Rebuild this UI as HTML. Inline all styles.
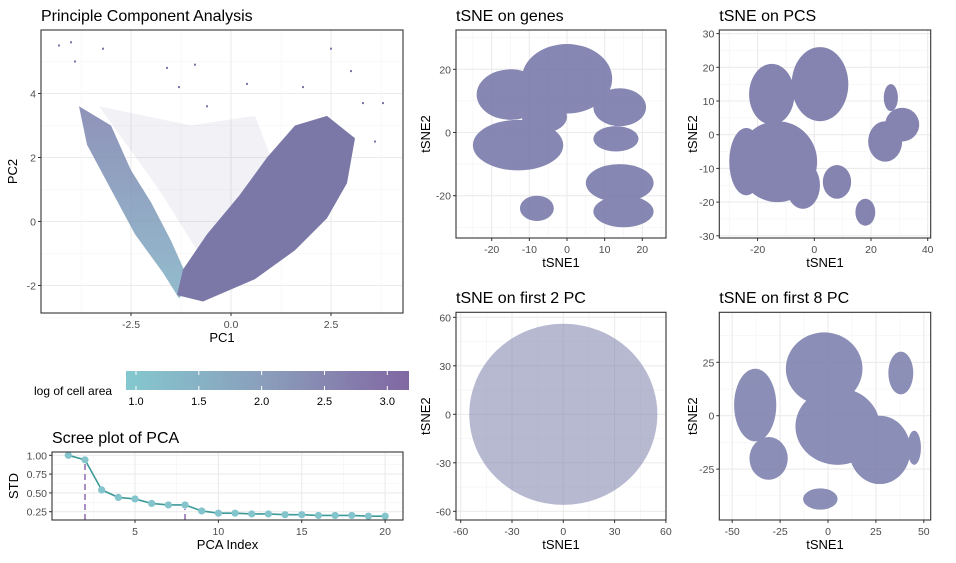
<!DOCTYPE html>
<html><head><meta charset="utf-8">
<style>
html,body{margin:0;padding:0;background:#fff;}
svg{display:block;font-family:"Liberation Sans",Arial,sans-serif;}
.tick{font-size:10.5px;fill:#4d4d4d;}
.ttl{font-size:16px;fill:#000;}
.axt{font-size:13px;fill:#000;}
</style></head>
<body>
<svg id="fig" width="956" height="563" viewBox="0 0 956 563" xmlns="http://www.w3.org/2000/svg">
<defs>
<linearGradient id="leg" x1="0" x2="1" y1="0" y2="0">
<stop offset="0" stop-color="#84c8cf"/><stop offset="0.5" stop-color="#8a9dbb"/><stop offset="1" stop-color="#8167a2"/>
</linearGradient>
<radialGradient id="blobg" cx="0.5" cy="0.5" r="0.6">
<stop offset="0" stop-color="#7f98b8"/><stop offset="1" stop-color="#7a74a6"/>
</radialGradient>
<linearGradient id="armg" x1="0" x2="0" y1="0" y2="1">
<stop offset="0" stop-color="#7c80ad"/><stop offset="1" stop-color="#80b0c4"/>
</linearGradient>
</defs>
</svg>
<script>
// ---------------- DATA ----------------
const screeIndex = [1,2,3,4,5,6,7,8,9,10,11,12,13,14,15,16,17,18,19,20];
const screeStd = [1.00,0.94,0.54,0.44,0.42,0.36,0.34,0.34,0.26,0.23,0.23,0.22,0.22,0.21,0.21,0.20,0.20,0.20,0.19,0.19];
const screeCutoffs = [2,8];
const screeXTicks = [5,10,15,20];
const screeYTicks = [1.00,0.75,0.50,0.25];
const legendTicks = [1.0,1.5,2.0,2.5,3.0];
const pcaXTicks = [-2.5,0.0,2.5];
const pcaYTicks = [-2,0,2,4];
const pcaLeftArm = [[-3.8,3.6],[-3.6,2.4],[-3.0,1.0],[-2.4,-0.4],[-1.7,-1.6],[-1.3,-2.4],[-1.0,-2.0],[-1.5,-0.6],[-2.0,0.6],[-2.5,1.6],[-3.0,3.0]];
const pcaRightArm = [[-1.35,-2.3],[-0.7,-2.5],[0.6,-1.8],[1.6,-0.9],[2.4,0.1],[2.9,1.2],[3.1,2.6],[2.4,3.3],[1.6,3.0],[0.9,2.0],[0.2,0.8],[-0.6,-0.4],[-1.2,-1.5]];
const pcaSparse = [[-3.3,3.6],[-1.0,3.0],[0.6,3.3],[1.0,2.0],[-0.7,-1.2],[-1.8,1.0]];
const pcaOutliers = [[-4.3,5.5],[-4.0,5.6],[-3.2,5.4],[-1.6,4.8],[-0.9,4.9],[2.5,5.4],[3.0,4.7],[3.8,3.7],[3.6,2.5],[-3.9,5.0],[-0.6,3.6],[-1.3,4.2],[0.4,4.3],[3.3,3.7],[1.8,4.2]];
// tSNE clusters: center x, center y, radius x, radius y (data units)
const genesCx = [-15,0,14,-13,13,14,15,-8,-6];
const genesCy = [12,17,8,-4,-2,-16,-25,-24,5];
const genesRx = [9,12,7,12,6,9,8,4.5,6];
const genesRy = [8,11,6,8,4,6,5,4,5];
const pcsCx = [-15,2,-13,-4,8,25,31,27,18,-24];
const pcsCy = [12,15,-8,-15,-14,-2,3,11,-23,-8];
const pcsRx = [8,10,14,6,5,6,6,2.5,3.5,6];
const pcsRy = [9,11,12,7,5,6,5,4,4,10];
const pc2Cx = [0];
const pc2Cy = [0];
const pc2Rx = [55];
const pc2Ry = [56];
const pc8Cx = [-38,-31,-2,5,27,45,38,-4];
const pc8Cy = [5,-20,22,-5,-16,-15,20,-39];
const pc8Rx = [11,10,20,22,16,3.5,6.5,9];
const pc8Ry = [17,10,17,18,16,8,10,5];

// ---------------- HELPERS ----------------
const NS="http://www.w3.org/2000/svg";
const svg=document.getElementById('fig');
function mk(tag,attrs,parent,text){const e=document.createElementNS(NS,tag);for(const k in attrs)e.setAttribute(k,attrs[k]);if(text!==undefined)e.textContent=text;(parent||svg).appendChild(e);return e;}
function lin(d0,d1,p0,p1){return v=>p0+(v-d0)*(p1-p0)/(d1-d0);}

function panel(name,box,xs,ys,xt,yt,xlab,ylab,title,fmt,minorX,minorY){
  const g=mk('g',{});
  
  
  minorX.forEach(v=>{const l=mk('line',{x1:xs(v),x2:xs(v),y1:box.y0,y2:box.y1,stroke:'#f3f3f3','stroke-width':0.6},g);});
  minorY.forEach(v=>{const l=mk('line',{x1:box.x0,x2:box.x1,y1:ys(v),y2:ys(v),stroke:'#f3f3f3','stroke-width':0.6},g);});
  xt.forEach(v=>{const l=mk('line',{x1:xs(v),x2:xs(v),y1:box.y0,y2:box.y1,stroke:'#ebebeb','stroke-width':1.1},g);});
  yt.forEach(v=>{const l=mk('line',{x1:box.x0,x2:box.x1,y1:ys(v),y2:ys(v),stroke:'#ebebeb','stroke-width':1.1},g);});
  const marks=mk('g',{},g);
  
  
  xt.forEach(v=>{mk('line',{x1:xs(v),x2:xs(v),y1:box.y1,y2:box.y1+3,stroke:'#333'},g);
    const t=mk('text',{x:xs(v),y:box.y1+15,'text-anchor':'middle',class:'tick'},g,fmt.x(v));});
  yt.forEach(v=>{mk('line',{x1:box.x0-3,x2:box.x0,y1:ys(v),y2:ys(v),stroke:'#333'},g);
    const t=mk('text',{x:box.x0-5,y:ys(v)+4,'text-anchor':'end',class:'tick'},g,fmt.y(v));});
  const xl=mk('text',{x:(box.x0+box.x1)/2,y:box.y1+29,'text-anchor':'middle',class:'axt'},g,xlab);
  
  const yx=box.ylabx;
  const yl=mk('text',{x:yx,y:(box.y0+box.y1)/2,'text-anchor':'middle',class:'axt',transform:`rotate(-90 ${yx} ${(box.y0+box.y1)/2})`},g,ylab);
  
  const tt=mk('text',{x:box.x0,y:box.ty,class:'ttl'},g,title);
  
  return {g,marks,finish:()=>{const r=mk('rect',{x:box.x0,y:box.y0,width:box.x1-box.x0,height:box.y1-box.y0,fill:'none',stroke:'#333','stroke-width':1.1},g);}};
}

// ---------------- PCA ----------------
{
const box={x0:41,x1:403,y0:30,y1:313,ty:21,ylabx:17};
const xs=lin(0,2.5,231,331), ys=lin(0,2,221.5,157.5);
const p=panel('pca-panel',box,xs,ys,pcaXTicks,pcaYTicks,'PC1','PC2','Principle Component Analysis',{x:v=>v.toFixed(1),y:v=>String(v)},[-3.75,-1.25,1.25,3.75],[-3,-1,1,3,5]);
const pts=a=>a.map(d=>xs(d[0])+','+ys(d[1])).join(' ');
const s=mk('polygon',{points:pts(pcaSparse),fill:'#8a8fb8','fill-opacity':0.12},p.marks);

const la=mk('polygon',{points:pts(pcaLeftArm),fill:'url(#armg)','fill-opacity':0.85},p.marks);

const ra=mk('polygon',{points:pts(pcaRightArm),fill:'#7b78a8'},p.marks);

pcaOutliers.forEach(d=>{const r=mk('rect',{x:xs(d[0])-1,y:ys(d[1])-1,width:2,height:2,fill:'#7b74a6'},p.marks);});
p.finish();
}

// ---------------- LEGEND ----------------
{
const g=mk('g',{});

const lx=lin(1,3,136,387.3);
const bar=mk('rect',{x:126,y:371,width:283,height:19,fill:'url(#leg)'},g);

legendTicks.forEach(v=>{mk('line',{x1:lx(v),x2:lx(v),y1:371,y2:375,stroke:'#fff'},g);mk('line',{x1:lx(v),x2:lx(v),y1:386,y2:390,stroke:'#fff'},g);
  const t=mk('text',{x:lx(v),y:405,'text-anchor':'middle',style:'font-size:11px;fill:#000'},g,v.toFixed(1));});
const lt=mk('text',{x:34,y:395,style:'font-size:12px;fill:#000'},g,'log of cell area');

}

// ---------------- SCREE ----------------
{
const box={x0:52,x1:403,y0:452,y1:520,ty:443,ylabx:18};
const xs=lin(1,5,68.3,135), ys=lin(1,0.25,455.3,511.7);
const p=panel('scree-panel',box,xs,ys,screeXTicks,screeYTicks,'PCA Index','STD','Scree plot of PCA',{x:v=>String(v),y:v=>v.toFixed(2)},[2.5,7.5,12.5,17.5],[0.375,0.625,0.875]);
screeCutoffs.forEach(c=>{const l=mk('line',{x1:xs(c),x2:xs(c),y1:box.y1,y2:ys(screeStd[c-1])+4,stroke:'#a98dc3','stroke-width':2,'stroke-dasharray':'6 4'},p.marks);});
const pl=mk('polyline',{points:screeIndex.map((v,i)=>xs(v)+','+ys(screeStd[i])).join(' '),fill:'none',stroke:'#3e9a98','stroke-width':1.6},p.marks);

screeIndex.forEach((v,i)=>{const c=mk('circle',{cx:xs(v),cy:ys(screeStd[i]),r:3.6,fill:'#84c4cc'},p.marks);});
p.finish();
}

// ---------------- tSNE panels ----------------
function tsne(name,box,xs,ys,xt,yt,title,minX,minY,cx,cy,rx,ry,op,fill){
  const p=panel(name,box,xs,ys,xt,yt,'tSNE1','tSNE2',title,{x:v=>String(v),y:v=>String(v)},minX,minY);
  p.marks.setAttribute('opacity',op);
  cx.forEach((v,i)=>{
    const kx=Math.abs(xs(rx[i])-xs(0)), ky=Math.abs(ys(ry[i])-ys(0));
    const e=mk('ellipse',{cx:xs(v),cy:ys(cy[i]),rx:kx,ry:ky,fill:fill},p.marks);
    
    
  });
  p.finish();
}
tsne('tsne-genes-panel',{x0:456,x1:666,y0:30,y1:238,ty:21,ylabx:430},lin(0,20,567,642.3),lin(0,20,132.5,69.3),[-20,-10,0,10,20],[-20,0,20],'tSNE on genes',[-25,-15,-5,5,15,25],[-30,-10,10,30],genesCx,genesCy,genesRx,genesRy,0.92,'#7c7dac');
tsne('tsne-pcs-panel',{x0:719.3,x1:930.7,y0:30,y1:238,ty:21,ylabx:697},lin(0,20,814.3,871),lin(0,10,134.7,101),[-20,0,20,40],[-30,-20,-10,0,10,20,30],'tSNE on PCS',[-30,-10,10,30],[-25,-15,-5,5,15,25],pcsCx,pcsCy,pcsRx,pcsRy,0.92,'#7b7aab');
tsne('tsne-pc2-panel',{x0:456,x1:666,y0:312.3,y1:520,ty:303,ylabx:430},lin(0,30,563.3,614.6),lin(0,30,414.3,365.8),[-60,-30,0,30,60],[-60,-30,0,30,60],'tSNE on first 2 PC',[-45,-15,15,45],[-45,-15,15,45],pc2Cx,pc2Cy,pc2Rx,pc2Ry,0.55,'#7c80ac');
tsne('tsne-pc8-panel',{x0:719.3,x1:930.7,y0:312.3,y1:520,ty:303,ylabx:697},lin(0,25,828,875.9),lin(0,25,415.7,362.3),[-50,-25,0,25,50],[-25,0,25],'tSNE on first 8 PC',[-37.5,-12.5,12.5,37.5],[-37.5,-12.5,12.5,37.5],pc8Cx,pc8Cy,pc8Rx,pc8Ry,0.88,'#7c7fac');
</script>
</body></html>
